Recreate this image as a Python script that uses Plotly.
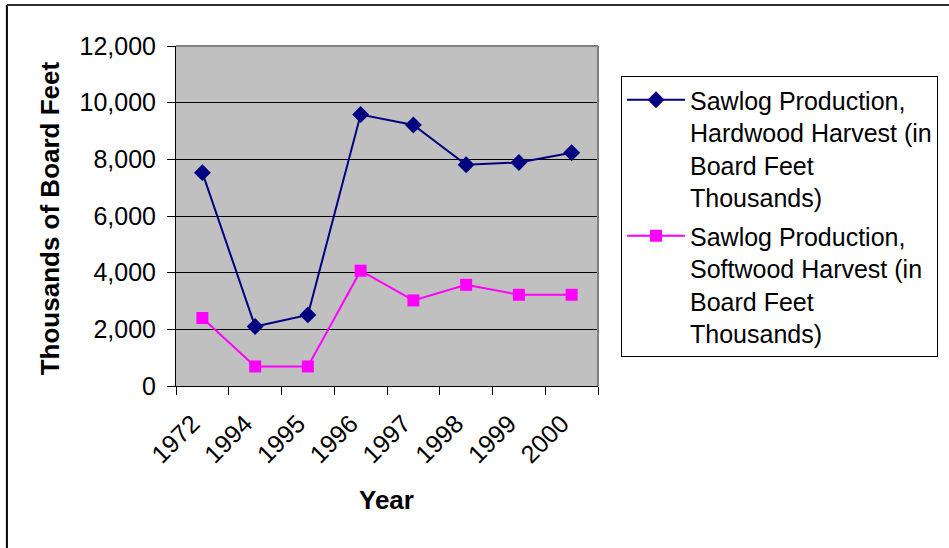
import plotly.graph_objects as go

years = ["1972", "1994", "1995", "1996", "1997", "1998", "1999", "2000"]
hardwood = [7530, 2100, 2510, 9580, 9210, 7810, 7890, 8230]
softwood = [2400, 690, 690, 4070, 3020, 3570, 3220, 3220]
y_ticks = [0, 2000, 4000, 6000, 8000, 10000, 12000]

name_hard = "Sawlog Production,<br>Hardwood Harvest (in<br>Board Feet<br>Thousands)"
name_soft = "Sawlog Production,<br>Softwood Harvest (in<br>Board Feet<br>Thousands)"

FONT = "Liberation Sans, Arial, sans-serif"
W, H = 949, 548
L, R, T, B = 176, 599, 46, 386

fig = go.Figure()
fig.add_trace(go.Scatter(
    x=years, y=hardwood, name=name_hard, mode="lines+markers",
    line=dict(color="#000080", width=2),
    marker=dict(symbol="diamond", size=13, color="#000080"),
    legendgroup="a",
))
fig.add_trace(go.Scatter(
    x=years, y=softwood, name=name_soft, mode="lines+markers",
    line=dict(color="#FF00FF", width=2),
    marker=dict(symbol="square", size=12, color="#FF00FF"),
    legendgroup="b",
))

def px_x(p):
    return (p - L) / (R - L)

def px_y(p):
    return (B - p) / (B - T)

fig.update_layout(
    width=W, height=H,
    margin=dict(l=L, r=W - R, t=T, b=H - B, pad=0),
    paper_bgcolor="white",
    plot_bgcolor="#C0C0C0",
    font=dict(family=FONT, size=25, color="black"),
    showlegend=True,
    legend=dict(
        x=px_x(621), y=px_y(76), xanchor="left", yanchor="top",
        bordercolor="black", borderwidth=1, bgcolor="white",
        font=dict(family=FONT, size=25, color="black"),
        valign="top", traceorder="grouped", tracegroupgap=3,
        itemwidth=58,
    ),
    xaxis=dict(
        type="category", range=[-0.5, 7.5],
        showline=True, linecolor="black", linewidth=1,
        ticks="outside", ticklen=8, tickcolor="black", tickson="boundaries",
        tickangle=-45, showgrid=False, zeroline=False,
        tickfont=dict(family=FONT, size=25, color="black"),
        ticklabelstandoff=12, ticklabelshift=-10,
    ),
    yaxis=dict(
        range=[0, 12000], tickvals=y_ticks, tickformat=",d",
        showline=True, linecolor="black", linewidth=1,
        ticks="outside", ticklen=8, tickcolor="black",
        showgrid=True, gridcolor="black", gridwidth=1, zeroline=False,
        tickfont=dict(family=FONT, size=25, color="black"),
        ticklabelstandoff=6,
    ),
    annotations=[
        dict(text="<b>Thousands of Board Feet</b>", textangle=-90,
             xref="paper", yref="paper", x=px_x(50), y=px_y(218),
             xanchor="center", yanchor="middle", showarrow=False,
             font=dict(family=FONT, size=26, color="black")),
        dict(text="<b>Year</b>",
             xref="paper", yref="paper", x=px_x(387), y=px_y(500),
             xanchor="center", yanchor="middle", showarrow=False,
             font=dict(family=FONT, size=26, color="black")),
    ],
    shapes=[
        dict(type="line", xref="paper", yref="paper",
             x0=px_x(6.5), x1=px_x(6.5), y0=px_y(560), y1=px_y(5),
             line=dict(color="black", width=2)),
        dict(type="line", xref="paper", yref="paper",
             x0=px_x(6.5), x1=px_x(960), y0=px_y(5), y1=px_y(5),
             line=dict(color="#303030", width=2)),
        dict(type="line", xref="paper", yref="paper",
             x0=0, x1=1, y0=1, y1=1, layer="above",
             line=dict(color="#808080", width=2)),
        dict(type="line", xref="paper", yref="paper",
             x0=1, x1=1, y0=0, y1=1, layer="above",
             line=dict(color="#808080", width=2)),
    ],
)

fig.write_html(
    "out.html",
    config={"displayModeBar": False},
    post_script="document.body.style.margin='0';document.body.style.overflow='hidden';",
)
